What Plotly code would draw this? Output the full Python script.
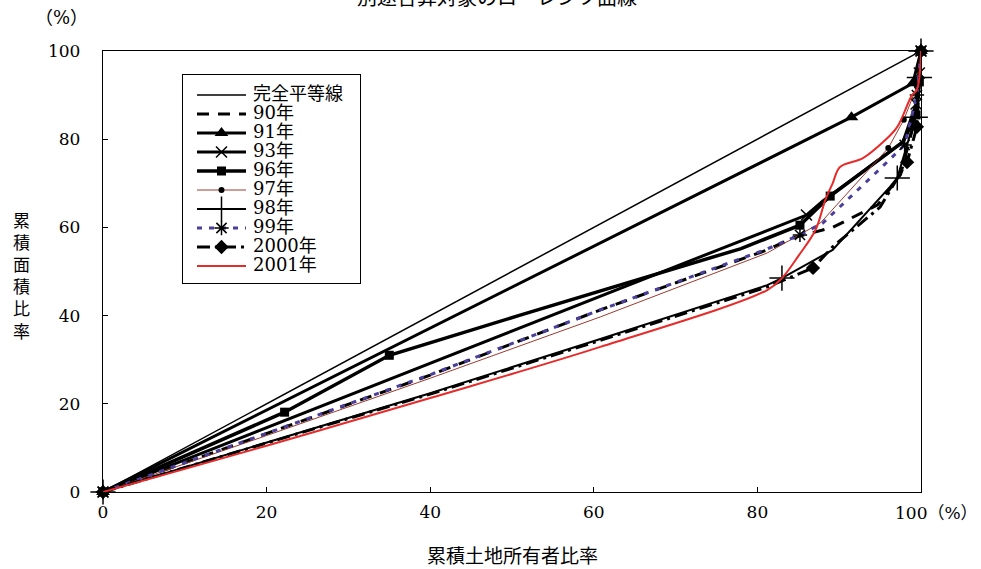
import plotly.graph_objects as go

# Lorenz curves: cumulative share of owners (x, %) vs cumulative share of area (y, %)
eq_x = [0, 100]
eq_y = [0, 100]

s90_x = [0, 20, 40, 60.8, 81.2, 84.3, 89.2, 94.7, 97.5, 99.2, 100]
s90_y = [0, 13.2, 26.5, 41.3, 54.9, 57.6, 60.0, 65.1, 72.0, 84.0, 100]
s90_mk = []

s91_x = [0, 91.5, 99.0, 100]
s91_y = [0, 85.0, 92.7, 100]
s91_mk = [0, 1, 2, 3]

s93_x = [0, 51, 77.9, 86.0, 88.0, 97.8, 99.4, 99.8, 100]
s93_y = [0, 37.2, 56.8, 62.8, 66.0, 79.4, 88.0, 95.0, 100]
s93_mk = [0, 3, 6, 7, 8]

s96_x = [0, 22.2, 35.0, 51, 78.0, 85.2, 88.9, 97.8, 99.4, 99.8, 100]
s96_y = [0, 18.1, 31.0, 40.1, 55.2, 60.5, 67.1, 79.4, 85.5, 93.0, 100]
s96_mk = [0, 1, 2, 5, 6, 8, 9, 10]

s97_x = [0, 20, 40, 60.8, 81.2, 85.2, 87.7, 96.0, 97.9, 99.5, 100]
s97_y = [0, 12.8, 25.8, 39.7, 54.2, 58.3, 61.0, 78.0, 84.4, 92.0, 100]
s97_mk = [0, 7, 8, 9, 10]

s98_x = [0, 20, 40, 60.8, 81.2, 83.0, 89.2, 96.2, 97.1, 99.3, 99.8, 100]
s98_y = [0, 11.2, 22.4, 34.7, 46.9, 48.5, 54.9, 69.2, 71.2, 85.0, 94.0, 100]
s98_mk = [0, 5, 8, 9, 10, 11]

s99_x = [0, 20, 40, 60.8, 81.2, 85.2, 88.0, 95.4, 98.0, 99.5, 100]
s99_y = [0, 13.3, 26.6, 41.3, 55.1, 58.3, 61.0, 74.0, 78.7, 90.0, 100]
s99_mk = [0, 5, 8, 9, 10]

s00_x = [0, 20, 40, 60.8, 81.2, 86.8, 89.2, 95.0, 98.3, 99.5, 100]
s00_y = [0, 11.1, 22.2, 34.4, 46.5, 50.8, 55.6, 64.6, 74.8, 82.8, 100]
s00_mk = [0, 5, 8, 9, 10]

s01_x = [0, 20, 40, 60.8, 81.2, 83.0, 85.0, 87.1, 88.3, 89.2, 90.1, 92.9, 95.4, 97.1, 98.9, 99.5, 100]
s01_y = [0, 10.5, 21.3, 32.9, 45.8, 48.5, 53.5, 59.4, 66.2, 70.0, 73.7, 75.7, 79.4, 82.8, 90.0, 91.2, 100]
s01_mk = []

series_names = ["完全平等線", "90年", "91年", "93年", "96年", "97年", "98年", "99年", "2000年", "2001年"]

x_ticks = [0, 20, 40, 60, 80, 100]
x_ticktext = ["0", "20", "40", "60", "80", ""]
y_ticks = [0, 20, 40, 60, 80, 100]

SERIF = "DejaVu Serif, Noto Sans CJK JP"

series = [
    (eq_x, eq_y, [], dict(color="black", width=1.5), None, "linear"),
    (s90_x, s90_y, s90_mk, dict(color="black", width=3, dash="12px,9px"), None, "linear"),
    (s91_x, s91_y, s91_mk, dict(color="black", width=3),
     dict(symbol="triangle-up", size=12, color="black"), "linear"),
    (s93_x, s93_y, s93_mk, dict(color="black", width=3),
     dict(symbol="x-thin-open", size=11, color="black", line=dict(color="black", width=1.5)), "linear"),
    (s96_x, s96_y, s96_mk, dict(color="black", width=3.5),
     dict(symbol="square", size=9, color="black"), "linear"),
    (s97_x, s97_y, s97_mk, dict(color="#9b3b2e", width=1),
     dict(symbol="circle", size=6, color="black"), "linear"),
    (s98_x, s98_y, s98_mk, dict(color="black", width=2),
     dict(symbol="cross-thin-open", size=18, color="black", line=dict(color="black", width=1.5)), "linear"),
    (s99_x, s99_y, s99_mk, dict(color="#4a3f9a", width=3, dash="5px,7px"),
     dict(symbol="asterisk-open", size=12, color="black", line=dict(color="black", width=1.5)), "linear"),
    (s00_x, s00_y, s00_mk, dict(color="black", width=3, dash="13px,5px,3px,5px"),
     dict(symbol="diamond", size=11, color="black"), "linear"),
    (s01_x, s01_y, s01_mk, dict(color="#e62b2b", width=2), None, "spline"),
]

fig = go.Figure()

# legend box is its own small subplot measured in pixels (x: 0..177, y: 0..208 downward)
LEG_LINE = (14, 63)
LEG_TEXT_X = 70
LEG_ROW0, LEG_ROW_STEP = 20, 19

for i, (name, (xs, ys, mk, line, marker, shape)) in enumerate(zip(series_names, series)):
    fig.add_trace(go.Scatter(x=xs, y=ys, mode="lines", line=dict(shape=shape, **line),
                             showlegend=False, hoverinfo="skip"))
    if marker is not None and mk:
        fig.add_trace(go.Scatter(x=[xs[j] for j in mk], y=[ys[j] for j in mk], mode="markers",
                                 marker=marker, cliponaxis=False, showlegend=False, hoverinfo="skip"))
    row_y = LEG_ROW0 + LEG_ROW_STEP * i
    fig.add_trace(go.Scatter(x=list(LEG_LINE), y=[row_y, row_y], mode="lines", line=line,
                             xaxis="x2", yaxis="y2", showlegend=False, hoverinfo="skip"))
    if marker is not None:
        fig.add_trace(go.Scatter(x=[sum(LEG_LINE) / 2], y=[row_y], mode="markers", marker=marker,
                                 xaxis="x2", yaxis="y2", showlegend=False, hoverinfo="skip"))
    fig.add_trace(go.Scatter(x=[LEG_TEXT_X], y=[row_y], mode="text", text=[name],
                             textposition="middle right", textfont=dict(family=SERIF, size=18),
                             cliponaxis=False, xaxis="x2", yaxis="y2",
                             showlegend=False, hoverinfo="skip"))

PLOT_L, PLOT_R, PLOT_T, PLOT_B = 103, 921, 51, 492
PW, PH = PLOT_R - PLOT_L, PLOT_B - PLOT_T


def px_x(p):
    return (p - PLOT_L) / PW


def px_y(p):
    return (PLOT_B - p) / PH


axis_common = dict(ticks="inside", ticklen=5, tickcolor="black",
                   showline=True, linecolor="black", linewidth=1.3, mirror=True,
                   showgrid=False, zeroline=False, fixedrange=True)

fig.update_layout(
    width=981, height=569,
    margin=dict(l=PLOT_L, r=981 - PLOT_R, t=PLOT_T, b=569 - PLOT_B),
    paper_bgcolor="white", plot_bgcolor="white",
    font=dict(family=SERIF, size=18, color="black"),
    showlegend=False,
    xaxis=dict(range=[0, 100], tickvals=x_ticks, ticktext=x_ticktext, domain=[0, 1],
               ticklabelstandoff=4, tickfont=dict(family=SERIF, size=17), **axis_common),
    yaxis=dict(range=[0, 100], tickvals=y_ticks, domain=[0, 1], ticklabelstandoff=18,
               tickfont=dict(family=SERIF, size=17), **axis_common),
    xaxis2=dict(domain=[px_x(183), px_x(360)], range=[0, 177], anchor="y2",
                showticklabels=False, ticks="", showgrid=False, zeroline=False,
                showline=True, mirror=True, linecolor="black", linewidth=1, fixedrange=True),
    yaxis2=dict(domain=[px_y(283), px_y(75)], range=[208, 0], anchor="x2",
                showticklabels=False, ticks="", showgrid=False, zeroline=False,
                showline=True, mirror=True, linecolor="black", linewidth=1, fixedrange=True),
    annotations=[
        dict(text="別途合算対象のローレンツ曲線", xref="paper", yref="paper",
             x=px_x(497), y=px_y(-2), xanchor="center", yanchor="middle",
             showarrow=False, font=dict(family=SERIF, size=20)),
        dict(text="（%）", xref="paper", yref="paper",
             x=px_x(61), y=px_y(18), xanchor="center", yanchor="middle",
             showarrow=False, font=dict(family=SERIF, size=18)),
        dict(text="100（%）", xref="paper", yref="paper",
             x=px_x(893), y=px_y(513), xanchor="left", yanchor="middle",
             showarrow=False, font=dict(family=SERIF, size=17)),
        dict(text="累<br>積<br>面<br>積<br>比<br>率", xref="paper", yref="paper",
             x=px_x(21), y=px_y(276), xanchor="center", yanchor="middle",
             showarrow=False, font=dict(family=SERIF, size=17)),
        dict(text="累積土地所有者比率", xref="paper", yref="paper",
             x=px_x(512), y=px_y(556), xanchor="center", yanchor="middle",
             showarrow=False, font=dict(family=SERIF, size=19)),
    ],
)

fig.write_html("out.html")
